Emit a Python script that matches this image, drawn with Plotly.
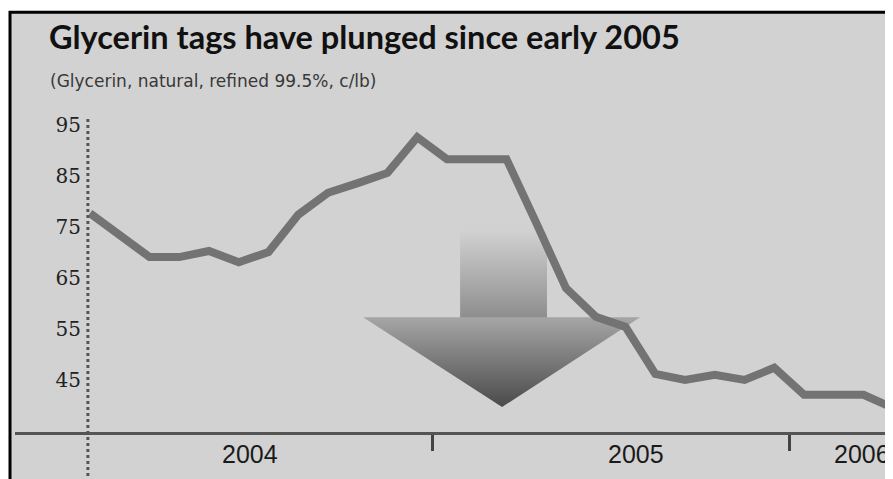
import plotly.graph_objects as go

# ---------------- data ----------------
months = ["Jan 2004", "Feb 2004", "Mar 2004", "Apr 2004", "May 2004", "Jun 2004",
          "Jul 2004", "Aug 2004", "Sep 2004", "Oct 2004", "Nov 2004", "Dec 2004",
          "Jan 2005", "Feb 2005", "Mar 2005", "Apr 2005", "May 2005", "Jun 2005",
          "Jul 2005", "Aug 2005", "Sep 2005", "Oct 2005", "Nov 2005", "Dec 2005",
          "Jan 2006", "Feb 2006", "Mar 2006", "Apr 2006"]
month_index = list(range(len(months)))
price = [77.7, 73.3, 69.1, 69.1, 70.3, 68.1,
         70.1, 77.4, 81.7, 83.6, 85.6, 92.6,
         88.3, 88.3, 88.3, 75.8, 63.0, 57.4,
         55.4, 46.2, 45.0, 46.0, 45.0, 47.4,
         42.1, 42.1, 42.1, 39.5]

y_ticks = [45, 55, 65, 75, 85, 95]
year_labels = ["2004", "2005", "2006"]
year_label_pos = [5.38, 18.35, 25.95]
year_boundaries = [11.5, 23.5]

title = "Glycerin tags have plunged since early 2005"
subtitle = "(Glycerin, natural, refined 99.5%, c/lb)"

# ---------------- layout geometry ----------------
# The page body has an 8px margin; the figure starts at (8, 8) of the window.
OFF = 8
W, H = 893 - OFF, 479 - OFF
ML, MR = 15 - OFF, 0
PLOT_TOP, PLOT_BOTTOM = 110, 432          # window pixels
MT = PLOT_TOP - OFF
MB = H - (PLOT_BOTTOM - OFF)
PW = W - ML - MR
PH = H - MT - MB
X_RANGE = [-2.52, 26.99]
Y_RANGE = [34.80, 97.94]


def px_x(p):
    """window pixel x -> paper fraction"""
    return (p - OFF - ML) / PW


def px_y(p):
    """window pixel y -> paper fraction"""
    return (H - MB - (p - OFF)) / PH


BG = "#d2d2d2"
LINE = "#737373"

fig = go.Figure()

# decorative gradient arrow (drawn under the line)
shaft_x = [12.44, 15.36, 15.36, 12.44, 12.44]
shaft_y = [74.4, 74.4, 56.8, 56.8, 74.4]
head_x = [9.18, 18.49, 13.85, 9.18]
head_y = [57.3, 57.3, 39.7, 57.3]

fig.add_trace(go.Scatter(
    x=shaft_x, y=shaft_y, mode="lines", fill="toself",
    line=dict(width=0, color="rgba(0,0,0,0)"),
    fillgradient=dict(type="vertical", start=56.8, stop=74.4,
                      colorscale=[[0, "#8c8c8c"], [1, BG]]),
    hoverinfo="skip", showlegend=False))
fig.add_trace(go.Scatter(
    x=head_x, y=head_y, mode="lines", fill="toself",
    line=dict(width=0, color="rgba(0,0,0,0)"),
    fillgradient=dict(type="vertical", start=39.7, stop=57.3,
                      colorscale=[[0, "#4a4a4a"], [1, "#a6a6a6"]]),
    hoverinfo="skip", showlegend=False))

fig.add_trace(go.Scatter(
    x=month_index, y=price, mode="lines",
    line=dict(color=LINE, width=8),
    text=months, hovertemplate="%{text}: %{y} c/lb<extra></extra>",
    showlegend=False))

shapes = [
    # frame
    dict(type="rect", xref="paper", yref="paper", layer="below",
         x0=px_x(10), x1=px_x(920), y0=px_y(520), y1=px_y(12.3),
         line=dict(color="black", width=3), fillcolor=BG),
    # dotted vertical axis line
    dict(type="line", xref="x", yref="paper",
         x0=-0.07, x1=-0.07, y0=px_y(500), y1=px_y(119),
         line=dict(color="#555555", width=3, dash="3px,3px")),
]

annotations = [
    dict(text="<b>" + title + "</b>", xref="paper", yref="paper",
         x=px_x(47), y=px_y(36.5), xanchor="left", yanchor="middle",
         showarrow=False, font=dict(family="Lato", size=32.5, color="#111111", weight=900)),
    dict(text=subtitle, xref="paper", yref="paper",
         x=px_x(48), y=px_y(81), xanchor="left", yanchor="middle",
         showarrow=False, font=dict(family="DejaVu Sans", size=17, color="#383838")),
]
for lab, pos in zip(year_labels, year_label_pos):
    annotations.append(dict(
        text=lab, xref="x", yref="paper", x=pos, y=px_y(454),
        xanchor="center", yanchor="middle", showarrow=False,
        font=dict(family="Liberation Sans, Arial, sans-serif", size=25, color="#1a1a1a")))

fig.update_layout(
    width=W, height=H,
    margin=dict(l=ML, r=MR, t=MT, b=MB, autoexpand=False),
    paper_bgcolor="white",
    plot_bgcolor="rgba(0,0,0,0)",
    shapes=shapes,
    annotations=annotations,
    xaxis=dict(range=X_RANGE, showgrid=False, zeroline=False,
               showline=True, linecolor="#555555", linewidth=2.5,
               tickmode="array", tickvals=year_boundaries, showticklabels=False,
               ticks="outside", ticklen=16, tickwidth=3, tickcolor="#444444",
               fixedrange=True),
    yaxis=dict(range=Y_RANGE, showgrid=False, zeroline=False, showline=False,
               anchor="free", position=px_x(88),
               tickmode="array", tickvals=y_ticks,
               ticks="outside", ticklen=3, tickcolor="rgba(0,0,0,0)",
               tickfont=dict(family="DejaVu Serif", size=20, color="#222222"),
               fixedrange=True),
)

fig.write_html("out.html")
